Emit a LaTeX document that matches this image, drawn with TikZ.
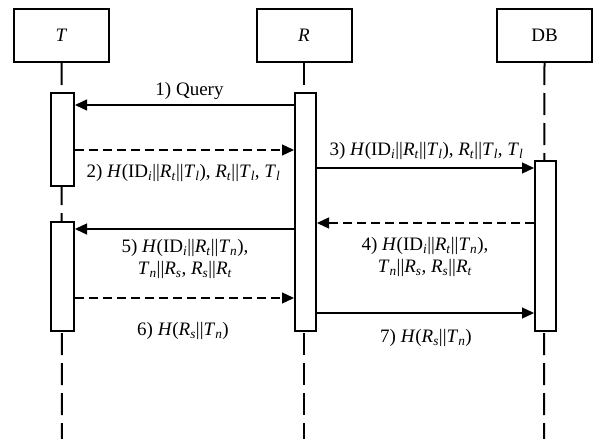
\documentclass[tikz,border=0pt]{standalone}
\usepackage{fontspec}
\setmainfont{Liberation Serif}
\usetikzlibrary{arrows.meta}
\newcommand\mysub[1]{\textsubscript{\textit{#1}}}
\begin{document}
\begin{tikzpicture}[x=1pt,y=-1pt,
  actor/.style={draw, line width=2pt, minimum width=95pt, minimum height=53pt, inner sep=0pt,
    font=\fontsize{19}{22}\selectfont},
  bar/.style={draw, fill=white, line width=2pt, inner sep=0pt},
  life/.style={line width=2pt, dash pattern=on 22pt off 8pt},
  msg/.style={line width=1.3pt, -{Triangle[length=12pt,width=11pt]}},
  rmsg/.style={msg, dash pattern=on 9pt off 5pt},
  lbl/.style={font=\fontsize{19}{22}\selectfont, inner sep=0pt, align=center}]
\useasboundingbox (0,0) rectangle (595,439);
% actors
\node[actor] (T) at (61.5,35.5) {\textit{T}};
\node[actor] (R) at (304,35.5) {\textit{R}};
\node[actor] (DB) at (544.5,35.5) {DB};
% lifeline ends
\coordinate (Tend) at (62,439);
\coordinate (Rend) at (304,439);
\coordinate (DBend) at (544,439);
\draw[life] (T.south) -- (Tend);
\draw[life] (R.south) -- (Rend);
\draw[life] (DB.south) -- (DBend);
% activation bars
\node[bar, minimum width=23pt, minimum height=93pt] (T1) at (62.5,139.5) {};
\node[bar, minimum width=23pt, minimum height=109pt] (T2) at (62.5,276.5) {};
\node[bar, minimum width=21pt, minimum height=238pt] (RB) at (305.5,212) {};
\node[bar, minimum width=21pt, minimum height=170pt] (DBB) at (545.5,246) {};
% message levels
\coordinate (y1) at (0,105);
\coordinate (y2) at (0,150);
\coordinate (y3) at (0,168);
\coordinate (y4) at (0,223);
\coordinate (y5) at (0,229);
\coordinate (y6) at (0,298);
\coordinate (y7) at (0,313);
% messages
\draw[msg] (RB.west |- y1) -- (T1.east |- y1);
\draw[rmsg] (T1.east |- y2) -- (RB.west |- y2);
\draw[msg] (RB.east |- y3) -- (DBB.west |- y3);
\draw[rmsg] (DBB.west |- y4) -- (RB.east |- y4);
\draw[msg] (RB.west |- y5) -- (T2.east |- y5);
\draw[rmsg] (T2.east |- y6) -- (RB.west |- y6);
\draw[msg] (RB.east |- y7) -- (DBB.west |- y7);
% labels
\node[lbl] (l1) at (189.5,91) {1) Query};
\node[lbl] (l2) at (183.5,173) {2) \textit{H}(ID\mysub{i}||\textit{R}\mysub{t}||\textit{T}\mysub{l}), \textit{R}\mysub{t}||\textit{T}\mysub{l}, \textit{T}\mysub{l}};
\node[lbl] (l3) at (426.5,151) {3) \textit{H}(ID\mysub{i}||\textit{R}\mysub{t}||\textit{T}\mysub{l}), \textit{R}\mysub{t}||\textit{T}\mysub{l}, \textit{T}\mysub{l}};
\node[lbl] (l4) at (425,257) {4) \textit{H}(ID\mysub{i}||\textit{R}\mysub{t}||\textit{T}\mysub{n}),\\ \textit{T}\mysub{n}||\textit{R}\mysub{s}, \textit{R}\mysub{s}||\textit{R}\mysub{t}};
\node[lbl] (l5) at (185,259) {5) \textit{H}(ID\mysub{i}||\textit{R}\mysub{t}||\textit{T}\mysub{n}),\\ \textit{T}\mysub{n}||\textit{R}\mysub{s}, \textit{R}\mysub{s}||\textit{R}\mysub{t}};
\node[lbl] (l6) at (183,331) {6) \textit{H}(\textit{R}\mysub{s}||\textit{T}\mysub{n})};
\node[lbl] (l7) at (426,338) {7) \textit{H}(\textit{R}\mysub{s}||\textit{T}\mysub{n})};
\end{tikzpicture}
\end{document}
